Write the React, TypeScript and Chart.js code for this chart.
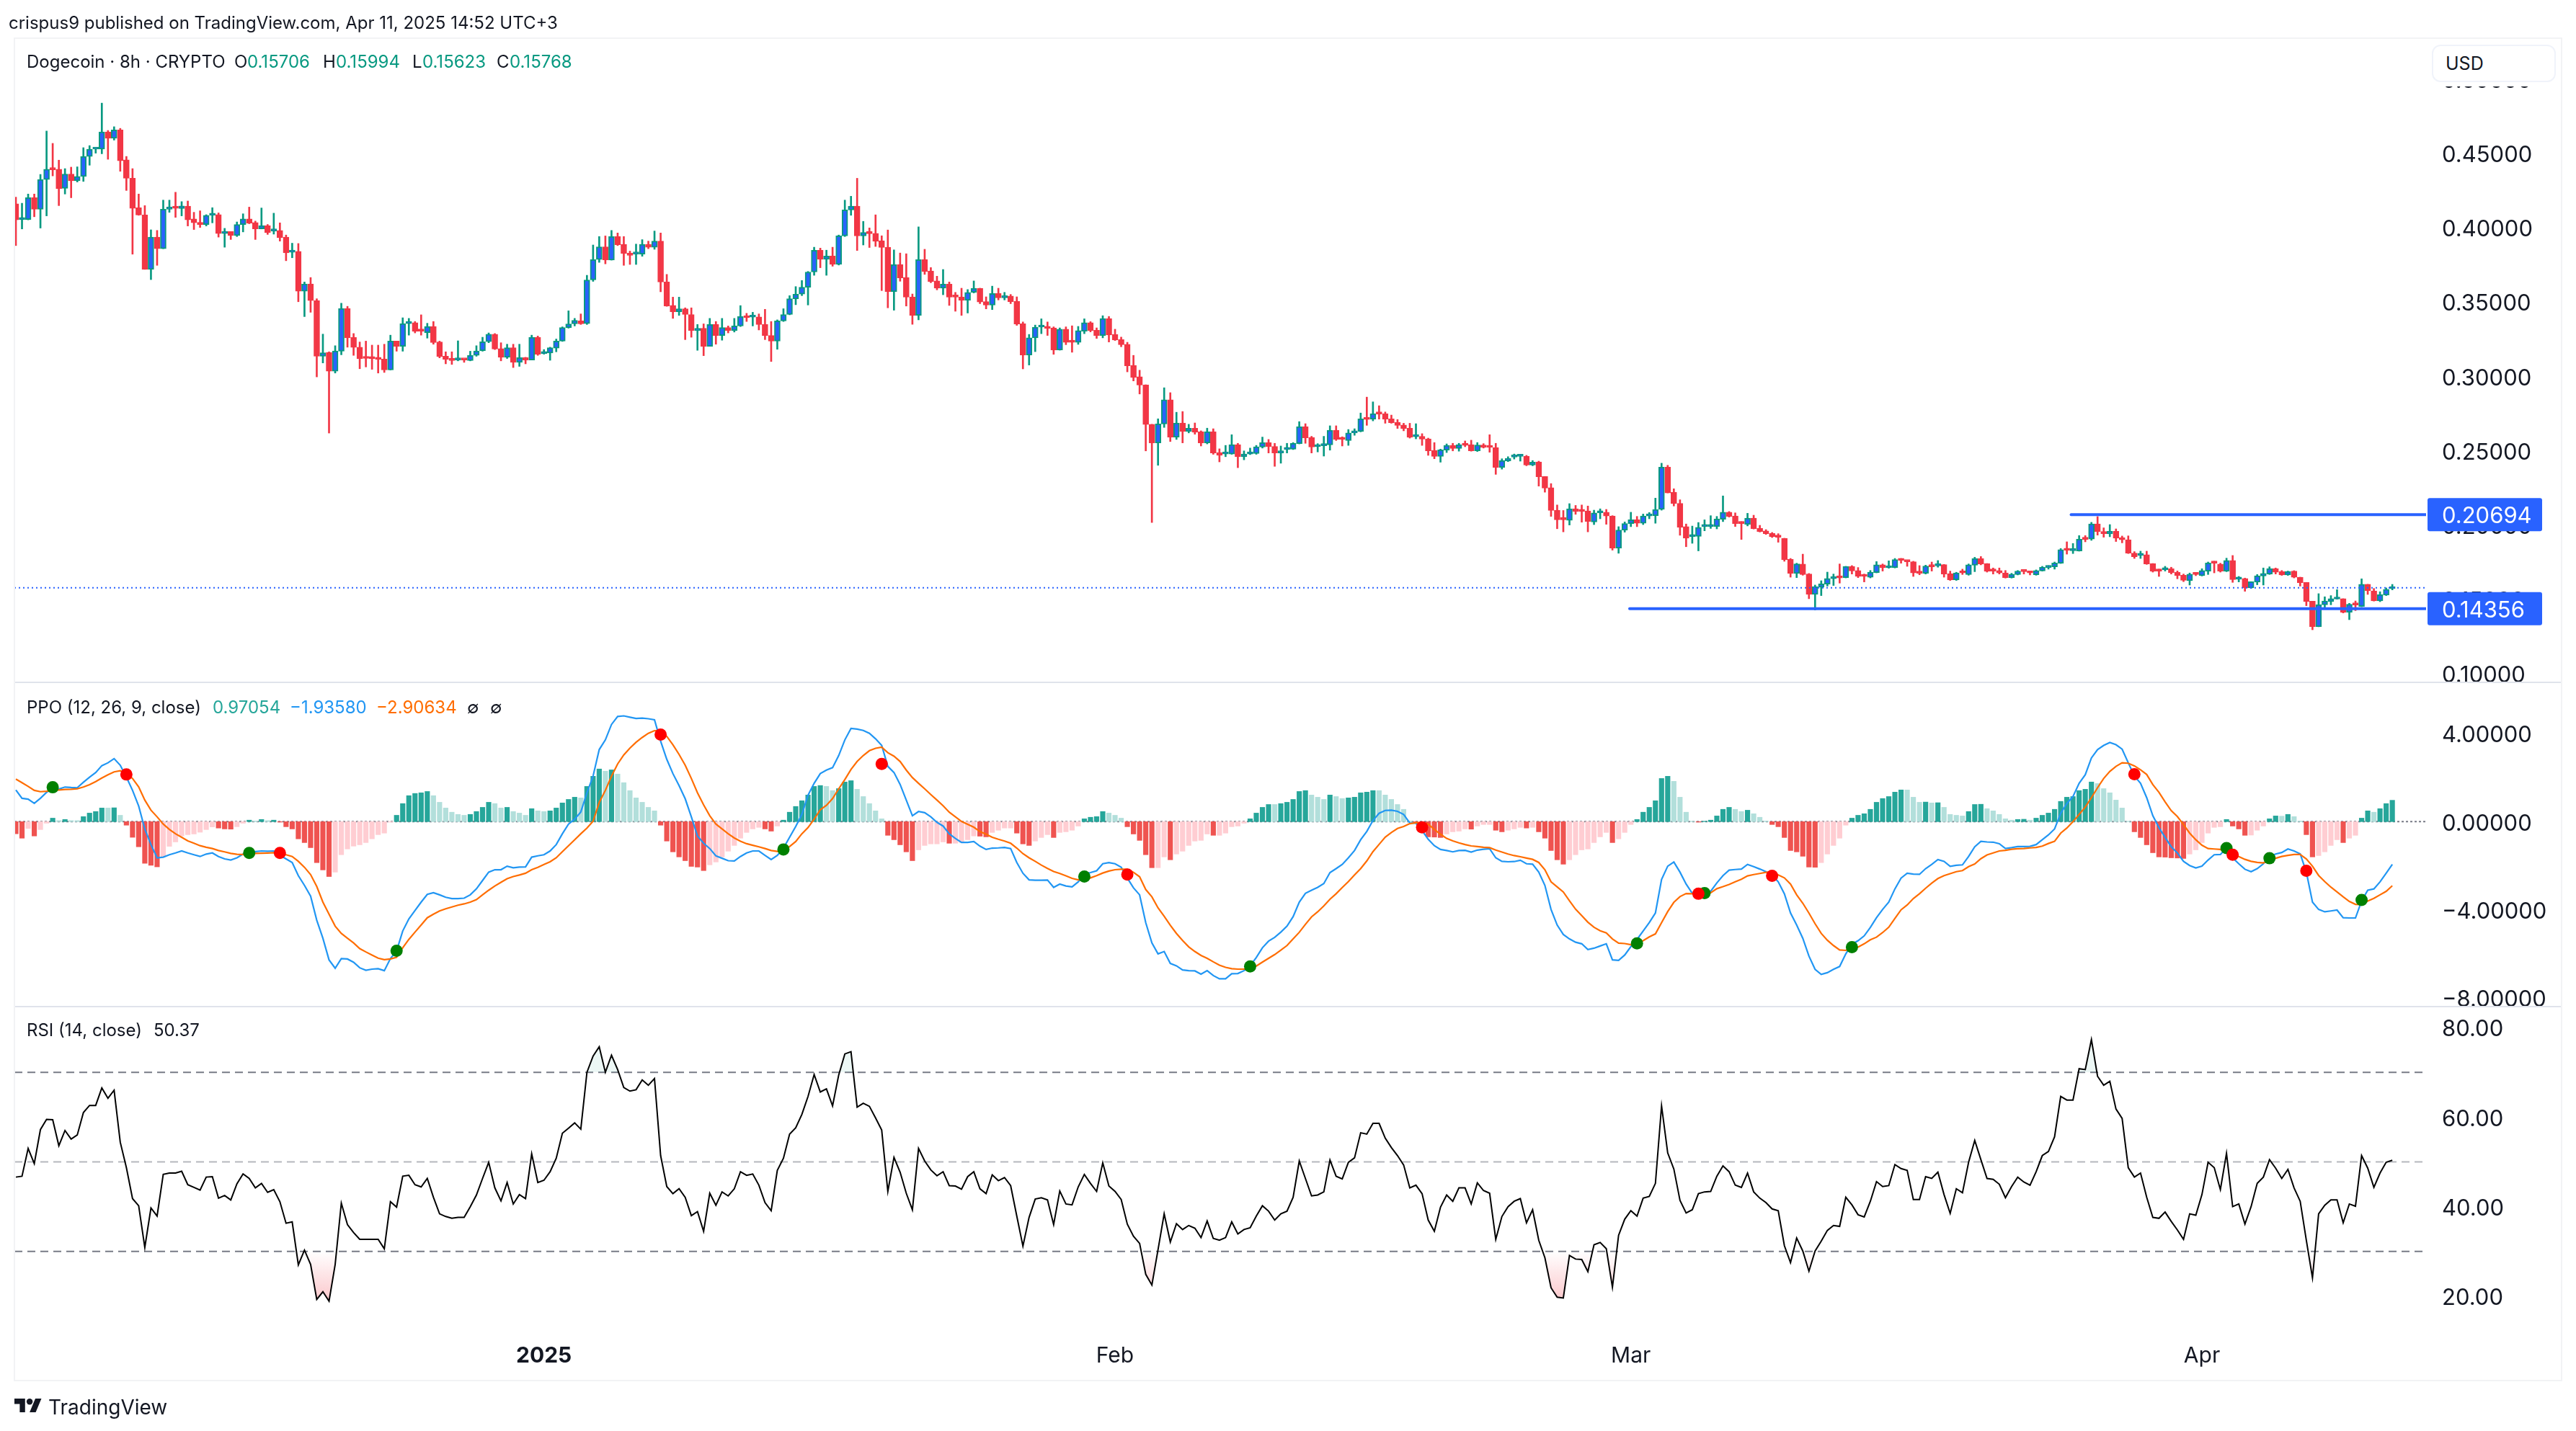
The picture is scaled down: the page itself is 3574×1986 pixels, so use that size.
import { useEffect, useRef } from 'react';
import { Chart, registerables } from 'chart.js';

Chart.register(...registerables);

const opens = [
  0.4161, 0.4055, 0.4055, 0.4202, 0.4125, 0.4325, 0.4398, 0.4394, 0.4265, 0.4361,
  0.4316, 0.4345, 0.4480, 0.4529, 0.4529, 0.4645, 0.4602, 0.4659, 0.4457, 0.4333,
  0.4135, 0.4086, 0.3720, 0.3937, 0.3859, 0.4125, 0.4139, 0.4129, 0.4145, 0.4059,
  0.4037, 0.4022, 0.4084, 0.4088, 0.3961, 0.3974, 0.3947, 0.4022, 0.4059, 0.4035,
  0.3992, 0.4014, 0.3978, 0.3982, 0.3937, 0.3835, 0.3841, 0.3573, 0.3622, 0.3510,
  0.3135, 0.3161, 0.3035, 0.3169, 0.3457, 0.3261, 0.3196, 0.3128, 0.3126, 0.3122,
  0.3116, 0.3043, 0.3237, 0.3202, 0.3355, 0.3361, 0.3312, 0.3294, 0.3335, 0.3231,
  0.3135, 0.3118, 0.3110, 0.3116, 0.3106, 0.3141, 0.3173, 0.3233, 0.3284, 0.3186,
  0.3128, 0.3192, 0.3094, 0.3126, 0.3110, 0.3263, 0.3153, 0.3157, 0.3190, 0.3237,
  0.3328, 0.3353, 0.3373, 0.3355, 0.3649, 0.3786, 0.3871, 0.3782, 0.3941, 0.3888,
  0.3829, 0.3823, 0.3823, 0.3888, 0.3869, 0.3910, 0.3635, 0.3477, 0.3435, 0.3455,
  0.3416, 0.3308, 0.3324, 0.3202, 0.3349, 0.3275, 0.3328, 0.3308, 0.3339, 0.3404,
  0.3398, 0.3400, 0.3349, 0.3275, 0.3237, 0.3373, 0.3416, 0.3522, 0.3553, 0.3600,
  0.3702, 0.3849, 0.3788, 0.3810, 0.3753, 0.3945, 0.4120, 0.4145, 0.3945, 0.3971,
  0.3962, 0.3913, 0.3869, 0.3570, 0.3753, 0.3665, 0.3535, 0.3410, 0.3786, 0.3709,
  0.3642, 0.3593, 0.3621, 0.3540, 0.3535, 0.3512, 0.3565, 0.3593, 0.3503, 0.3480,
  0.3558, 0.3528, 0.3540, 0.3505, 0.3354, 0.3143, 0.3259, 0.3331, 0.3333, 0.3326,
  0.3178, 0.3317, 0.3238, 0.3229, 0.3303, 0.3361, 0.3310, 0.3275, 0.3389, 0.3282,
  0.3247, 0.3215, 0.3074, 0.2997, 0.2943, 0.2677, 0.2552, 0.2679, 0.2842, 0.2591,
  0.2686, 0.2630, 0.2651, 0.2628, 0.2552, 0.2628, 0.2487, 0.2477, 0.2477, 0.2540,
  0.2459, 0.2477, 0.2480, 0.2524, 0.2554, 0.2528, 0.2484, 0.2507, 0.2510, 0.2547,
  0.2661, 0.2589, 0.2526, 0.2533, 0.2538, 0.2637, 0.2584, 0.2568, 0.2619, 0.2630,
  0.2719, 0.2712, 0.2753, 0.2749, 0.2714, 0.2691, 0.2672, 0.2651, 0.2593, 0.2596,
  0.2579, 0.2501, 0.2461, 0.2503, 0.2535, 0.2514, 0.2545, 0.2540, 0.2498, 0.2538,
  0.2531, 0.2521, 0.2387, 0.2431, 0.2456, 0.2461, 0.2463, 0.2403, 0.2424, 0.2326,
  0.2250, 0.2099, 0.2041, 0.2030, 0.2108, 0.2099, 0.2094, 0.2020, 0.2081, 0.2085,
  0.2060, 0.1844, 0.1965, 0.2009, 0.2034, 0.2011, 0.2060, 0.2062, 0.2104, 0.2389,
  0.2220, 0.2145, 0.1988, 0.1921, 0.1923, 0.1988, 0.1988, 0.1989, 0.2038, 0.2085,
  0.2060, 0.2015, 0.2002, 0.2046, 0.1976, 0.1959, 0.1942, 0.1923, 0.1910, 0.1769,
  0.1673, 0.1736, 0.1669, 0.1532, 0.1580, 0.1601, 0.1637, 0.1653, 0.1645, 0.1721,
  0.1692, 0.1661, 0.1647, 0.1679, 0.1731, 0.1711, 0.1713, 0.1769, 0.1761, 0.1752,
  0.1682, 0.1674, 0.1727, 0.1724, 0.1732, 0.1672, 0.1630, 0.1684, 0.1666, 0.1729,
  0.1774, 0.1740, 0.1695, 0.1692, 0.1677, 0.1645, 0.1666, 0.1692, 0.1684, 0.1664,
  0.1690, 0.1713, 0.1718, 0.1742, 0.1836, 0.1826, 0.1824, 0.1908, 0.1904, 0.2007,
  0.1955, 0.1939, 0.1957, 0.1915, 0.1900, 0.1810, 0.1794, 0.1799, 0.1740, 0.1695,
  0.1698, 0.1705, 0.1681, 0.1661, 0.1624, 0.1674, 0.1658, 0.1689, 0.1748, 0.1736,
  0.1689, 0.1760, 0.1634, 0.1639, 0.1576, 0.1614, 0.1656, 0.1669, 0.1706, 0.1685,
  0.1663, 0.1689, 0.1648, 0.1613, 0.1486, 0.1315, 0.1462, 0.1483, 0.1500, 0.1503,
  0.1411, 0.1469, 0.1451, 0.1600, 0.1556, 0.1488, 0.1527, 0.15706,
];

const highs = [
  0.4206, 0.4165, 0.4227, 0.4227, 0.4359, 0.4651, 0.4568, 0.4455, 0.4398, 0.4408,
  0.4410, 0.4539, 0.4553, 0.4535, 0.4839, 0.4655, 0.4680, 0.4669, 0.4480, 0.4398,
  0.4227, 0.4149, 0.3986, 0.3982, 0.4186, 0.4186, 0.4239, 0.4176, 0.4180, 0.4104,
  0.4114, 0.4088, 0.4135, 0.4100, 0.3996, 0.3974, 0.4039, 0.4094, 0.4139, 0.4045,
  0.4133, 0.4022, 0.4098, 0.4033, 0.3951, 0.3896, 0.3894, 0.3635, 0.3665, 0.3522,
  0.3284, 0.3165, 0.3206, 0.3492, 0.3471, 0.3288, 0.3231, 0.3237, 0.3210, 0.3210,
  0.3216, 0.3277, 0.3237, 0.3394, 0.3390, 0.3369, 0.3414, 0.3357, 0.3369, 0.3237,
  0.3165, 0.3165, 0.3239, 0.3116, 0.3169, 0.3206, 0.3263, 0.3292, 0.3288, 0.3226,
  0.3216, 0.3216, 0.3216, 0.3128, 0.3277, 0.3271, 0.3180, 0.3196, 0.3251, 0.3333,
  0.3441, 0.3390, 0.3420, 0.3680, 0.3884, 0.3941, 0.3945, 0.3982, 0.3965, 0.3941,
  0.3843, 0.3890, 0.3920, 0.3910, 0.3978, 0.3965, 0.3686, 0.3533, 0.3533, 0.3461,
  0.3461, 0.3349, 0.3353, 0.3390, 0.3369, 0.3390, 0.3339, 0.3390, 0.3476, 0.3424,
  0.3431, 0.3420, 0.3451, 0.3369, 0.3380, 0.3455, 0.3543, 0.3604, 0.3645, 0.3706,
  0.3869, 0.3863, 0.3849, 0.3869, 0.3951, 0.4186, 0.4212, 0.4333, 0.4043, 0.3999,
  0.4087, 0.3946, 0.3985, 0.3851, 0.3830, 0.3825, 0.3554, 0.4006, 0.3855, 0.3732,
  0.3674, 0.3719, 0.3635, 0.3565, 0.3593, 0.3584, 0.3642, 0.3593, 0.3535, 0.3607,
  0.3593, 0.3565, 0.3551, 0.3535, 0.3366, 0.3282, 0.3345, 0.3387, 0.3366, 0.3333,
  0.3326, 0.3333, 0.3340, 0.3336, 0.3387, 0.3368, 0.3326, 0.3408, 0.3403, 0.3317,
  0.3264, 0.3229, 0.3141, 0.3041, 0.2943, 0.2677, 0.2714, 0.2923, 0.2890, 0.2758,
  0.2763, 0.2677, 0.2686, 0.2633, 0.2651, 0.2647, 0.2512, 0.2535, 0.2607, 0.2549,
  0.2498, 0.2517, 0.2535, 0.2591, 0.2575, 0.2549, 0.2531, 0.2549, 0.2554, 0.2695,
  0.2681, 0.2596, 0.2547, 0.2596, 0.2667, 0.2667, 0.2593, 0.2642, 0.2647, 0.2753,
  0.2860, 0.2828, 0.2802, 0.2760, 0.2739, 0.2709, 0.2684, 0.2684, 0.2681, 0.2614,
  0.2584, 0.2554, 0.2510, 0.2545, 0.2549, 0.2549, 0.2565, 0.2570, 0.2554, 0.2547,
  0.2607, 0.2549, 0.2445, 0.2459, 0.2477, 0.2475, 0.2468, 0.2433, 0.2429, 0.2326,
  0.2278, 0.2134, 0.2097, 0.2143, 0.2131, 0.2134, 0.2127, 0.2099, 0.2108, 0.2104,
  0.2062, 0.1988, 0.2020, 0.2085, 0.2057, 0.2073, 0.2083, 0.2180, 0.2415, 0.2401,
  0.2243, 0.2169, 0.2006, 0.1992, 0.2016, 0.2034, 0.2062, 0.2057, 0.2195, 0.2090,
  0.2081, 0.2022, 0.2078, 0.2065, 0.1997, 0.1968, 0.1949, 0.1941, 0.1910, 0.1774,
  0.1742, 0.1803, 0.1673, 0.1595, 0.1624, 0.1682, 0.1669, 0.1737, 0.1721, 0.1726,
  0.1713, 0.1669, 0.1693, 0.1753, 0.1737, 0.1758, 0.1774, 0.1774, 0.1761, 0.1755,
  0.1726, 0.1729, 0.1750, 0.1760, 0.1734, 0.1689, 0.1681, 0.1702, 0.1737, 0.1782,
  0.1787, 0.1740, 0.1710, 0.1710, 0.1693, 0.1674, 0.1693, 0.1693, 0.1689, 0.1697,
  0.1721, 0.1726, 0.1750, 0.1841, 0.1886, 0.1875, 0.1928, 0.1928, 0.2017, 0.2056,
  0.1980, 0.2002, 0.1973, 0.1925, 0.1926, 0.1820, 0.1823, 0.1823, 0.1740, 0.1702,
  0.1721, 0.1715, 0.1690, 0.1669, 0.1676, 0.1677, 0.1705, 0.1750, 0.1755, 0.1742,
  0.1776, 0.1794, 0.1653, 0.1642, 0.1618, 0.1666, 0.1710, 0.1718, 0.1710, 0.1693,
  0.1689, 0.1692, 0.1648, 0.1613, 0.1486, 0.1537, 0.1516, 0.1524, 0.1564, 0.1503,
  0.1472, 0.1488, 0.1637, 0.1600, 0.1572, 0.1550, 0.1576, 0.15994,
];

const lows = [
  0.3880, 0.3992, 0.4053, 0.4074, 0.3998, 0.4080, 0.4349, 0.4149, 0.4227, 0.4202,
  0.4308, 0.4312, 0.4421, 0.4502, 0.4498, 0.4461, 0.4590, 0.4380, 0.4251, 0.3822,
  0.4084, 0.3720, 0.3651, 0.3747, 0.3859, 0.4104, 0.4070, 0.4080, 0.4012, 0.3988,
  0.4002, 0.4012, 0.4033, 0.3937, 0.3869, 0.3921, 0.3941, 0.3972, 0.4027, 0.3921,
  0.3992, 0.3955, 0.3957, 0.3910, 0.3778, 0.3798, 0.3502, 0.3402, 0.3431, 0.2996,
  0.3090, 0.2618, 0.3022, 0.3145, 0.3196, 0.3141, 0.3051, 0.3063, 0.3047, 0.3022,
  0.3026, 0.3043, 0.3169, 0.3169, 0.3277, 0.3292, 0.3277, 0.3257, 0.3216, 0.3124,
  0.3084, 0.3080, 0.3104, 0.3094, 0.3104, 0.3135, 0.3169, 0.3226, 0.3180, 0.3104,
  0.3120, 0.3059, 0.3067, 0.3084, 0.3110, 0.3141, 0.3149, 0.3108, 0.3165, 0.3235,
  0.3324, 0.3339, 0.3349, 0.3349, 0.3639, 0.3767, 0.3757, 0.3782, 0.3880, 0.3747,
  0.3753, 0.3753, 0.3808, 0.3859, 0.3855, 0.3569, 0.3471, 0.3390, 0.3410, 0.3247,
  0.3263, 0.3175, 0.3139, 0.3202, 0.3216, 0.3243, 0.3292, 0.3298, 0.3335, 0.3369,
  0.3339, 0.3312, 0.3247, 0.3100, 0.3182, 0.3369, 0.3414, 0.3482, 0.3543, 0.3480,
  0.3680, 0.3731, 0.3680, 0.3741, 0.3749, 0.3941, 0.4084, 0.3847, 0.3884, 0.3867,
  0.3874, 0.3577, 0.3461, 0.3445, 0.3640, 0.3473, 0.3350, 0.3380, 0.3686, 0.3630,
  0.3582, 0.3549, 0.3477, 0.3438, 0.3410, 0.3426, 0.3561, 0.3489, 0.3454, 0.3449,
  0.3514, 0.3514, 0.3489, 0.3343, 0.3050, 0.3076, 0.3166, 0.3287, 0.3275, 0.3148,
  0.3176, 0.3213, 0.3162, 0.3215, 0.3287, 0.3299, 0.3255, 0.3259, 0.3231, 0.3241,
  0.3199, 0.3030, 0.2969, 0.2881, 0.2498, 0.2016, 0.2401, 0.2656, 0.2561, 0.2575,
  0.2552, 0.2619, 0.2610, 0.2531, 0.2545, 0.2475, 0.2424, 0.2459, 0.2475, 0.2385,
  0.2438, 0.2473, 0.2475, 0.2517, 0.2484, 0.2394, 0.2415, 0.2484, 0.2507, 0.2545,
  0.2549, 0.2484, 0.2491, 0.2463, 0.2503, 0.2568, 0.2531, 0.2535, 0.2603, 0.2626,
  0.2670, 0.2700, 0.2712, 0.2684, 0.2684, 0.2649, 0.2633, 0.2584, 0.2579, 0.2535,
  0.2468, 0.2445, 0.2422, 0.2487, 0.2498, 0.2496, 0.2526, 0.2496, 0.2494, 0.2517,
  0.2489, 0.2340, 0.2375, 0.2426, 0.2443, 0.2429, 0.2398, 0.2398, 0.2261, 0.2220,
  0.2057, 0.1974, 0.1953, 0.1999, 0.2071, 0.2018, 0.1953, 0.2002, 0.2041, 0.2004,
  0.1830, 0.1809, 0.1951, 0.1988, 0.1988, 0.2002, 0.2041, 0.2011, 0.2099, 0.2215,
  0.2127, 0.1930, 0.1853, 0.1876, 0.1825, 0.1960, 0.1976, 0.1973, 0.2022, 0.2052,
  0.1989, 0.1902, 0.1993, 0.1972, 0.1952, 0.1936, 0.1915, 0.1883, 0.1755, 0.1648,
  0.1645, 0.1661, 0.1503, 0.1427, 0.1524, 0.1588, 0.1592, 0.1608, 0.1643, 0.1669,
  0.1645, 0.1616, 0.1643, 0.1677, 0.1689, 0.1708, 0.1710, 0.1742, 0.1721, 0.1653,
  0.1664, 0.1669, 0.1689, 0.1715, 0.1648, 0.1626, 0.1626, 0.1666, 0.1661, 0.1685,
  0.1731, 0.1682, 0.1669, 0.1669, 0.1642, 0.1642, 0.1663, 0.1669, 0.1663, 0.1661,
  0.1689, 0.1702, 0.1702, 0.1740, 0.1803, 0.1807, 0.1823, 0.1886, 0.1896, 0.1931,
  0.1917, 0.1920, 0.1888, 0.1879, 0.1807, 0.1774, 0.1774, 0.1734, 0.1682, 0.1653,
  0.1689, 0.1669, 0.1637, 0.1618, 0.1595, 0.1658, 0.1656, 0.1666, 0.1677, 0.1682,
  0.1685, 0.1613, 0.1616, 0.1553, 0.1572, 0.1597, 0.1595, 0.1666, 0.1669, 0.1660,
  0.1660, 0.1643, 0.1588, 0.1456, 0.1294, 0.1314, 0.1435, 0.1462, 0.1500, 0.1407,
  0.1362, 0.1423, 0.1449, 0.1532, 0.1487, 0.1483, 0.1524, 0.15623,
];

const closes = [
  0.4053, 0.4063, 0.4202, 0.4125, 0.4325, 0.4394, 0.4390, 0.4263, 0.4361, 0.4316,
  0.4345, 0.4480, 0.4529, 0.4535, 0.4645, 0.4602, 0.4659, 0.4451, 0.4333, 0.4131,
  0.4086, 0.3720, 0.3937, 0.3859, 0.4125, 0.4137, 0.4131, 0.4147, 0.4053, 0.4033,
  0.4022, 0.4084, 0.4092, 0.3961, 0.3976, 0.3947, 0.4022, 0.4059, 0.4031, 0.3992,
  0.4014, 0.3967, 0.3986, 0.3933, 0.3831, 0.3845, 0.3573, 0.3622, 0.3510, 0.3135,
  0.3159, 0.3035, 0.3171, 0.3457, 0.3259, 0.3194, 0.3118, 0.3120, 0.3118, 0.3114,
  0.3043, 0.3237, 0.3202, 0.3355, 0.3365, 0.3302, 0.3304, 0.3335, 0.3227, 0.3133,
  0.3114, 0.3106, 0.3118, 0.3110, 0.3141, 0.3171, 0.3233, 0.3284, 0.3184, 0.3128,
  0.3192, 0.3094, 0.3126, 0.3110, 0.3263, 0.3149, 0.3161, 0.3192, 0.3237, 0.3328,
  0.3353, 0.3377, 0.3353, 0.3649, 0.3786, 0.3871, 0.3784, 0.3941, 0.3886, 0.3827,
  0.3814, 0.3829, 0.3888, 0.3869, 0.3910, 0.3635, 0.3473, 0.3435, 0.3455, 0.3416,
  0.3308, 0.3324, 0.3202, 0.3349, 0.3275, 0.3328, 0.3308, 0.3339, 0.3402, 0.3394,
  0.3404, 0.3349, 0.3275, 0.3237, 0.3373, 0.3416, 0.3522, 0.3553, 0.3600, 0.3702,
  0.3849, 0.3788, 0.3810, 0.3753, 0.3945, 0.4120, 0.4145, 0.3945, 0.3969, 0.3960,
  0.3909, 0.3867, 0.3570, 0.3753, 0.3663, 0.3533, 0.3410, 0.3786, 0.3705, 0.3637,
  0.3593, 0.3621, 0.3533, 0.3533, 0.3512, 0.3565, 0.3593, 0.3500, 0.3480, 0.3558,
  0.3528, 0.3540, 0.3503, 0.3352, 0.3143, 0.3259, 0.3331, 0.3338, 0.3322, 0.3178,
  0.3317, 0.3229, 0.3229, 0.3308, 0.3361, 0.3308, 0.3275, 0.3389, 0.3278, 0.3245,
  0.3213, 0.3071, 0.2992, 0.2941, 0.2675, 0.2552, 0.2679, 0.2842, 0.2591, 0.2686,
  0.2630, 0.2651, 0.2623, 0.2552, 0.2628, 0.2484, 0.2468, 0.2487, 0.2540, 0.2459,
  0.2477, 0.2487, 0.2526, 0.2554, 0.2526, 0.2484, 0.2498, 0.2514, 0.2549, 0.2661,
  0.2586, 0.2524, 0.2535, 0.2542, 0.2637, 0.2575, 0.2575, 0.2619, 0.2633, 0.2714,
  0.2709, 0.2749, 0.2746, 0.2712, 0.2688, 0.2670, 0.2649, 0.2589, 0.2600, 0.2577,
  0.2498, 0.2461, 0.2505, 0.2535, 0.2514, 0.2540, 0.2535, 0.2498, 0.2538, 0.2521,
  0.2521, 0.2387, 0.2433, 0.2447, 0.2466, 0.2468, 0.2403, 0.2422, 0.2324, 0.2248,
  0.2097, 0.2034, 0.2034, 0.2108, 0.2090, 0.2090, 0.2023, 0.2081, 0.2087, 0.2060,
  0.1844, 0.1965, 0.2009, 0.2034, 0.2011, 0.2060, 0.2069, 0.2104, 0.2389, 0.2215,
  0.2143, 0.1983, 0.1911, 0.1930, 0.1983, 0.1997, 0.1997, 0.2039, 0.2085, 0.2057,
  0.2009, 0.2009, 0.2046, 0.1975, 0.1955, 0.1941, 0.1920, 0.1917, 0.1766, 0.1673,
  0.1737, 0.1666, 0.1532, 0.1585, 0.1603, 0.1639, 0.1648, 0.1643, 0.1721, 0.1690,
  0.1653, 0.1653, 0.1682, 0.1731, 0.1711, 0.1721, 0.1766, 0.1761, 0.1752, 0.1676,
  0.1674, 0.1723, 0.1718, 0.1732, 0.1669, 0.1630, 0.1677, 0.1676, 0.1731, 0.1774,
  0.1737, 0.1687, 0.1689, 0.1676, 0.1645, 0.1668, 0.1689, 0.1685, 0.1676, 0.1693,
  0.1716, 0.1724, 0.1744, 0.1833, 0.1829, 0.1833, 0.1904, 0.1902, 0.2007, 0.1954,
  0.1941, 0.1957, 0.1910, 0.1900, 0.1810, 0.1786, 0.1803, 0.1737, 0.1689, 0.1689,
  0.1706, 0.1679, 0.1660, 0.1627, 0.1668, 0.1666, 0.1693, 0.1744, 0.1742, 0.1689,
  0.1760, 0.1632, 0.1643, 0.1576, 0.1618, 0.1658, 0.1673, 0.1706, 0.1681, 0.1663,
  0.1687, 0.1647, 0.1611, 0.1483, 0.1315, 0.1464, 0.1488, 0.1503, 0.1508, 0.1411,
  0.1466, 0.1461, 0.1600, 0.1556, 0.1488, 0.1530, 0.1566, 0.15768,
];

const ppoHist = [
  -0.55, -0.75, -0.31, -0.65, -0.36, -0.07, 0.16, 0.05, 0.10, 0.05,
  0.05, 0.23, 0.39, 0.46, 0.62, 0.62, 0.63, 0.29, -0.16, -0.71,
  -1.14, -1.89, -1.98, -2.05, -1.58, -1.12, -0.92, -0.65, -0.59, -0.56,
  -0.48, -0.36, -0.24, -0.29, -0.33, -0.34, -0.23, -0.07, 0.07, 0.03,
  0.10, 0.05, 0.07, -0.02, -0.23, -0.33, -0.78, -0.95, -1.18, -1.86,
  -2.19, -2.49, -2.29, -1.50, -1.24, -1.11, -1.05, -0.95, -0.78, -0.59,
  -0.52, -0.02, 0.29, 0.82, 1.18, 1.28, 1.31, 1.37, 1.18, 0.88,
  0.62, 0.43, 0.33, 0.29, 0.33, 0.46, 0.65, 0.88, 0.82, 0.62,
  0.65, 0.46, 0.39, 0.29, 0.59, 0.49, 0.46, 0.49, 0.62, 0.85,
  1.01, 1.11, 1.08, 1.60, 2.06, 2.39, 2.29, 2.35, 2.16, 1.77,
  1.41, 1.08, 0.88, 0.65, 0.49, -0.16, -0.88, -1.37, -1.60, -1.77,
  -2.03, -2.06, -2.22, -1.96, -1.83, -1.60, -1.34, -1.08, -0.75, -0.49,
  -0.33, -0.26, -0.33, -0.43, -0.20, 0.07, 0.43, 0.69, 0.95, 1.21,
  1.60, 1.64, 1.60, 1.41, 1.50, 1.80, 1.86, 1.47, 1.14, 0.82,
  0.49, 0.13, -0.62, -0.82, -1.05, -1.37, -1.77, -1.28, -1.08, -1.01,
  -1.01, -0.92, -0.98, -0.98, -0.95, -0.82, -0.65, -0.66, -0.69, -0.49,
  -0.39, -0.29, -0.29, -0.52, -1.01, -1.08, -0.88, -0.72, -0.59, -0.72,
  -0.49, -0.46, -0.39, -0.20, 0.13, 0.20, 0.23, 0.46, 0.39, 0.29,
  0.16, -0.23, -0.56, -0.85, -1.50, -2.09, -2.09, -1.60, -1.73, -1.47,
  -1.34, -1.08, -0.88, -0.85, -0.56, -0.62, -0.62, -0.52, -0.23, -0.20,
  -0.07, 0.13, 0.39, 0.65, 0.78, 0.78, 0.82, 0.88, 1.01, 1.37,
  1.41, 1.21, 1.11, 1.01, 1.21, 1.14, 1.05, 1.08, 1.11, 1.31,
  1.34, 1.41, 1.41, 1.21, 1.01, 0.78, 0.56, 0.03, -0.04, -0.36,
  -0.69, -0.70, -0.72, -0.56, -0.46, -0.43, -0.33, -0.34, -0.20, -0.13,
  -0.13, -0.39, -0.46, -0.39, -0.33, -0.26, -0.29, -0.26, -0.46, -0.75,
  -1.31, -1.73, -1.93, -1.73, -1.50, -1.28, -1.24, -0.95, -0.69, -0.49,
  -0.95, -0.78, -0.49, -0.13, 0.10, 0.43, 0.65, 0.95, 1.96, 2.06,
  1.83, 1.11, 0.43, 0.02, -0.02, 0.02, 0.07, 0.26, 0.56, 0.65,
  0.56, 0.46, 0.52, 0.36, 0.20, 0.03, -0.13, -0.23, -0.72, -1.31,
  -1.37, -1.57, -2.06, -2.07, -1.86, -1.47, -1.08, -0.75, -0.16, 0.16,
  0.29, 0.36, 0.56, 0.88, 1.05, 1.14, 1.34, 1.44, 1.44, 1.11,
  0.88, 0.89, 0.85, 0.86, 0.65, 0.33, 0.29, 0.26, 0.46, 0.78,
  0.79, 0.59, 0.49, 0.33, 0.13, 0.07, 0.10, 0.11, 0.07, 0.16,
  0.29, 0.39, 0.56, 0.92, 1.11, 1.14, 1.41, 1.47, 1.80, 1.73,
  1.50, 1.31, 0.98, 0.62, 0.02, -0.46, -0.72, -1.05, -1.41, -1.60,
  -1.61, -1.64, -1.65, -1.67, -1.47, -1.28, -0.95, -0.52, -0.26, -0.23,
  0.10, -0.20, -0.33, -0.62, -0.61, -0.39, -0.20, 0.13, 0.26, 0.25,
  0.33, 0.23, 0.03, -0.59, -1.60, -1.54, -1.37, -1.08, -0.82, -0.95,
  -0.75, -0.62, 0.16, 0.49, 0.43, 0.59, 0.82, 0.97054,
];

const ppoLine = [
  1.44, 1.06, 1.02, 0.83, 1.06, 1.33, 1.50, 1.48, 1.57, 1.55,
  1.54, 1.79, 2.02, 2.23, 2.54, 2.67, 2.86, 2.56, 2.02, 1.42,
  0.71, -0.33, -1.04, -1.64, -1.61, -1.50, -1.42, -1.33, -1.42, -1.50,
  -1.58, -1.47, -1.42, -1.58, -1.69, -1.74, -1.64, -1.47, -1.40, -1.36,
  -1.33, -1.34, -1.33, -1.53, -1.69, -1.85, -2.45, -2.89, -3.38, -4.47,
  -5.29, -6.27, -6.65, -6.21, -6.23, -6.38, -6.63, -6.74, -6.69, -6.67,
  -6.76, -6.21, -5.86, -4.96, -4.41, -4.03, -3.65, -3.30, -3.22, -3.32,
  -3.43, -3.49, -3.49, -3.47, -3.32, -3.05, -2.67, -2.29, -2.18, -2.18,
  -2.02, -2.09, -2.06, -2.05, -1.61, -1.55, -1.50, -1.33, -1.04, -0.55,
  -0.11, 0.11, 0.44, 1.31, 2.07, 3.27, 3.71, 4.41, 4.77, 4.80,
  4.74, 4.68, 4.70, 4.67, 4.62, 3.65, 2.83, 2.18, 1.64, 1.04,
  0.22, -0.65, -0.98, -1.22, -1.55, -1.66, -1.77, -1.78, -1.58, -1.42,
  -1.33, -1.33, -1.53, -1.72, -1.53, -1.20, -0.71, -0.22, 0.33, 1.20,
  1.74, 2.18, 2.34, 2.45, 3.00, 3.71, 4.23, 4.20, 4.14, 4.01,
  3.76, 3.46, 2.51, 2.23, 1.69, 0.98, 0.27, 0.46, 0.41, 0.22,
  -0.03, -0.20, -0.55, -0.76, -0.94, -0.94, -0.90, -1.11, -1.26, -1.20,
  -1.19, -1.17, -1.22, -1.85, -2.34, -2.64, -2.66, -2.66, -2.65, -2.98,
  -2.83, -2.92, -2.96, -2.73, -2.38, -2.31, -2.23, -1.91, -1.86, -1.91,
  -2.07, -2.56, -3.00, -3.32, -4.58, -5.50, -6.00, -5.89, -6.43, -6.54,
  -6.73, -6.76, -6.77, -6.92, -6.76, -6.98, -7.13, -7.13, -6.90, -6.89,
  -6.76, -6.54, -6.16, -5.72, -5.42, -5.25, -5.01, -4.74, -4.31, -3.65,
  -3.25, -3.11, -2.98, -2.81, -2.31, -2.13, -1.94, -1.64, -1.31, -0.82,
  -0.44, 0.05, 0.38, 0.51, 0.52, 0.47, 0.33, -0.06, -0.07, -0.40,
  -0.80, -1.09, -1.26, -1.31, -1.37, -1.31, -1.30, -1.38, -1.29, -1.25,
  -1.23, -1.64, -1.80, -1.82, -1.81, -1.75, -1.91, -1.93, -2.29, -2.89,
  -3.98, -4.69, -5.12, -5.32, -5.47, -5.54, -5.80, -5.74, -5.64, -5.54,
  -6.27, -6.29, -6.05, -5.67, -5.34, -4.96, -4.58, -4.14, -2.62, -2.02,
  -1.83, -2.29, -2.83, -3.25, -3.32, -3.36, -3.16, -2.78, -2.45, -2.20,
  -2.17, -2.15, -1.94, -2.04, -2.15, -2.27, -2.42, -2.73, -3.27, -4.14,
  -4.69, -5.29, -6.10, -6.70, -6.93, -6.85, -6.70, -6.57, -6.00, -5.56,
  -5.40, -5.18, -4.80, -4.36, -3.98, -3.65, -3.05, -2.56, -2.34, -2.38,
  -2.39, -2.13, -1.94, -1.72, -1.80, -2.03, -1.98, -1.96, -1.58, -1.14,
  -0.89, -0.92, -0.93, -1.00, -1.22, -1.18, -1.13, -1.13, -1.12, -1.04,
  -0.82, -0.60, -0.33, 0.38, 0.82, 1.14, 1.74, 2.13, 2.89, 3.27,
  3.46, 3.59, 3.49, 3.29, 2.67, 2.07, 1.74, 1.09, 0.27, -0.27,
  -0.71, -1.14, -1.42, -1.80, -1.99, -2.10, -2.02, -1.74, -1.50, -1.49,
  -1.20, -1.64, -1.91, -2.16, -2.27, -2.13, -1.91, -1.58, -1.47, -1.40,
  -1.24, -1.33, -1.46, -2.29, -3.65, -3.98, -4.09, -4.05, -4.01, -4.36,
  -4.37, -4.37, -3.60, -3.11, -3.05, -2.73, -2.34, -1.9358,
];

const ppoSignal = [
  1.93, 1.77, 1.60, 1.42, 1.36, 1.38, 1.42, 1.44, 1.46, 1.47,
  1.49, 1.57, 1.68, 1.82, 1.98, 2.13, 2.26, 2.31, 2.20, 1.96,
  1.58, 0.98, 0.52, 0.22, -0.11, -0.35, -0.55, -0.71, -0.87, -0.98,
  -1.09, -1.16, -1.22, -1.31, -1.37, -1.44, -1.48, -1.49, -1.46, -1.44,
  -1.43, -1.42, -1.41, -1.45, -1.50, -1.58, -1.80, -2.07, -2.40, -2.94,
  -3.65, -4.20, -4.74, -5.07, -5.29, -5.50, -5.76, -5.91, -6.05, -6.19,
  -6.26, -6.23, -6.15, -5.72, -5.34, -5.01, -4.69, -4.36, -4.20, -4.05,
  -3.95, -3.87, -3.79, -3.73, -3.65, -3.54, -3.32, -3.11, -2.92, -2.75,
  -2.59, -2.49, -2.42, -2.34, -2.18, -2.07, -1.94, -1.82, -1.64, -1.36,
  -1.09, -0.82, -0.55, -0.29, 0.02, 0.87, 1.42, 2.06, 2.62, 3.03,
  3.34, 3.60, 3.82, 4.01, 4.13, 4.12, 3.87, 3.49, 3.05, 2.56,
  1.96, 1.31, 0.76, 0.27, -0.11, -0.33, -0.55, -0.74, -0.89, -1.00,
  -1.07, -1.14, -1.22, -1.31, -1.35, -1.35, -1.13, -0.90, -0.55, -0.27,
  0.11, 0.54, 0.74, 1.05, 1.49, 1.91, 2.37, 2.73, 3.00, 3.22,
  3.33, 3.38, 3.13, 2.97, 2.73, 2.34, 2.00, 1.74, 1.49, 1.23,
  0.98, 0.72, 0.43, 0.22, 0.01, -0.12, -0.25, -0.45, -0.57, -0.71,
  -0.80, -0.88, -0.98, -1.20, -1.45, -1.64, -1.80, -1.97, -2.12, -2.26,
  -2.35, -2.46, -2.57, -2.64, -2.60, -2.55, -2.45, -2.33, -2.24, -2.18,
  -2.16, -2.16, -2.30, -2.50, -3.08, -3.41, -3.91, -4.29, -4.70, -5.07,
  -5.39, -5.68, -5.89, -6.07, -6.20, -6.36, -6.51, -6.61, -6.67, -6.69,
  -6.69, -6.67, -6.55, -6.37, -6.20, -6.03, -5.83, -5.62, -5.32, -5.02,
  -4.66, -4.32, -4.09, -3.82, -3.52, -3.27, -2.99, -2.72, -2.42, -2.13,
  -1.78, -1.36, -1.03, -0.70, -0.49, -0.31, -0.22, -0.09, -0.05, -0.04,
  -0.11, -0.35, -0.57, -0.76, -0.87, -0.96, -1.04, -1.10, -1.13, -1.16,
  -1.18, -1.29, -1.38, -1.47, -1.54, -1.59, -1.65, -1.71, -1.85, -2.18,
  -2.73, -2.96, -3.19, -3.59, -3.97, -4.26, -4.56, -4.79, -4.95, -5.05,
  -5.32, -5.51, -5.53, -5.58, -5.50, -5.40, -5.23, -5.09, -4.58, -4.08,
  -3.66, -3.40, -3.26, -3.27, -3.30, -3.35, -3.23, -3.04, -2.95, -2.85,
  -2.73, -2.61, -2.46, -2.40, -2.35, -2.30, -2.29, -2.42, -2.55, -2.83,
  -3.32, -3.70, -4.15, -4.63, -5.07, -5.38, -5.62, -5.82, -5.84, -5.72,
  -5.69, -5.54, -5.36, -5.24, -5.03, -4.79, -4.39, -4.00, -3.78, -3.49,
  -3.27, -3.02, -2.79, -2.58, -2.45, -2.36, -2.27, -2.22, -2.04, -1.92,
  -1.68, -1.51, -1.42, -1.33, -1.30, -1.25, -1.23, -1.22, -1.19, -1.17,
  -1.11, -0.99, -0.89, -0.52, -0.29, 0, 0.33, 0.66, 1.09, 1.54,
  1.96, 2.28, 2.51, 2.67, 2.65, 2.53, 2.35, 2.14, 1.68, 1.33,
  0.90, 0.50, 0.23, -0.13, -0.52, -0.82, -1.07, -1.22, -1.24, -1.26,
  -1.36, -1.44, -1.58, -1.71, -1.80, -1.85, -1.87, -1.74, -1.66, -1.58,
  -1.53, -1.49, -1.49, -1.69, -2.02, -2.44, -2.72, -2.97, -3.19, -3.41,
  -3.62, -3.75, -3.76, -3.60, -3.48, -3.32, -3.16, -2.90634,
];

const rsiLine = [
  46.6, 46.8, 53.0, 49.6, 57.2, 59.5, 59.4, 53.6, 57.0, 55.1,
  56.0, 61.0, 62.6, 62.6, 66.5, 64.2, 66.0, 54.4, 48.7, 41.8,
  40.2, 30.9, 39.7, 37.9, 47.2, 47.5, 47.5, 47.9, 44.9, 44.3,
  43.7, 46.6, 46.7, 41.9, 42.5, 41.5, 45.1, 47.3, 46.3, 44.2,
  45.2, 43.2, 43.8, 41.1, 36.3, 36.6, 27.0, 30.3, 27.1, 19.3,
  21.0, 18.9, 27.1, 40.8, 36.0, 34.2, 32.7, 32.7, 32.7, 32.7,
  30.6, 41.1, 39.9, 46.8, 47.0, 44.9, 44.4, 46.3, 42.1, 38.4,
  37.8, 37.4, 37.6, 37.6, 40.0, 42.6, 46.3, 49.9, 44.2, 41.3,
  45.4, 40.6, 42.7, 41.8, 51.8, 45.4, 45.9, 47.8, 50.8, 56.4,
  57.5, 58.7, 57.3, 70.0, 73.6, 75.7, 70.0, 73.8, 70.6, 66.6,
  65.8, 66.1, 68.3, 67.1, 68.6, 51.4, 44.5, 42.9, 44.0, 42.1,
  38.0, 38.9, 34.5, 43.0, 40.3, 43.3, 42.4, 44.0, 47.8, 47.0,
  47.3, 44.8, 40.9, 39.1, 48.1, 50.8, 56.2, 57.6, 60.6, 64.6,
  69.5, 65.6, 66.3, 62.5, 69.4, 74.1, 74.6, 62.2, 63.1, 62.4,
  59.8, 57.1, 43.4, 51.0, 47.7, 43.0, 39.3, 53.0, 50.2, 48.2,
  46.9, 47.8, 44.7, 44.6, 43.9, 46.7, 47.8, 44.0, 42.9, 47.1,
  45.8, 46.5, 44.7, 37.9, 31.2, 37.6, 41.7, 42.0, 41.5, 36.0,
  43.5, 40.6, 40.4, 44.4, 47.2, 45.2, 43.4, 49.8, 44.6, 43.4,
  41.6, 36.1, 33.4, 31.8, 24.9, 22.5, 30.4, 38.4, 32.1, 36.2,
  34.9, 35.8, 35.2, 33.1, 36.8, 32.9, 32.5, 33.1, 36.6, 33.9,
  34.9, 35.3, 37.9, 40.2, 39.0, 37.0, 38.4, 39.0, 42.1, 50.2,
  46.3, 42.4, 42.6, 43.3, 50.4, 46.8, 46.2, 49.9, 50.9, 56.5,
  56.2, 58.6, 58.6, 55.3, 53.2, 51.4, 49.3, 44.2, 44.8, 42.9,
  37.0, 34.5, 39.9, 42.6, 41.2, 44.2, 44.2, 40.6, 45.3, 43.6,
  43.0, 32.7, 37.8, 40.0, 41.2, 41.8, 36.4, 39.3, 32.5, 28.6,
  21.9, 19.8, 19.6, 29.1, 28.3, 28.2, 25.5, 31.5, 32.0, 30.6,
  22.0, 33.6, 37.2, 39.1, 37.9, 41.9, 42.3, 45.2, 62.5, 52.0,
  48.4, 41.4, 38.6, 39.3, 42.9, 43.3, 43.4, 46.8, 49.1, 47.8,
  44.8, 44.3, 47.5, 43.3, 41.9, 40.9, 39.5, 39.1, 31.3, 27.5,
  33.0, 30.1, 25.6, 30.1, 32.3, 34.7, 35.8, 35.6, 42.1, 40.4,
  38.2, 37.7, 41.2, 45.6, 44.5, 44.7, 49.4, 48.5, 48.1, 41.6,
  41.6, 46.7, 46.3, 47.7, 42.7, 38.5, 44.0, 43.1, 49.9, 54.8,
  50.5, 46.3, 46.1, 45.0, 42.0, 44.5, 46.6, 45.5, 44.8, 47.8,
  51.4, 52.3, 55.6, 64.6, 63.8, 63.8, 70.8, 70.6, 77.3, 69.1,
  67.1, 68.0, 61.8, 59.7, 48.7, 46.6, 47.5, 42.1, 37.6, 37.4,
  38.8, 36.7, 34.8, 32.7, 38.4, 38.1, 42.7, 49.9, 48.7, 43.8,
  51.9, 40.0, 40.6, 36.1, 40.0, 45.2, 46.6, 50.5, 48.6, 46.3,
  48.3, 44.2, 41.2, 32.5, 24.1, 38.4, 40.3, 41.5, 41.5, 36.4,
  40.6, 40.1, 51.4, 48.6, 44.3, 47.5, 49.9, 50.37,
];

// PPO cross dots: candle index and the PPO value they sit on
const bullCrossIdx = [6, 38, 62, 125, 174, 201, 264, 275, 299, 360, 367, 382];
const bullCrossVal = [1.56, -1.42, -5.86, -1.26, -2.49, -6.57, -5.52, -3.24, -5.69, -1.2, -1.66, -3.55];
const bearCrossIdx = [18, 43, 105, 141, 181, 229, 274, 286, 345, 361, 373];
const bearCrossVal = [2.14, -1.42, 3.95, 2.62, -2.4, -0.26, -3.27, -2.46, 2.15, -1.5, -2.23];

// drawn levels: value, first candle index
const levelValues = [0.20694, 0.14356];
const levelStarts = [334.7, 262.8];
const lastClose = 0.15768;

const priceTicks = [0.5, 0.45, 0.4, 0.35, 0.3, 0.25, 0.2, 0.15, 0.1];
const ppoTicks = [4, 0, -4, -8];
const rsiTicks = [80, 60, 40, 20];
const rsiBands = [70, 50, 30];
const timeTickIdx = [86, 179, 263, 356];
const timeTickLabels = ['2025', 'Feb', 'Mar', 'Apr'];

const xMin = -0.235;
const xMax = 392.5;
const UP_BODY = '#2962ff';
const UP_EDGE = '#089981';
const DOWN = '#f23645';
const INK = '#131722';
const FONT = 'Inter, "Noto Sans", sans-serif';

const indices = closes.map((_, i) => i);
const histColors = ppoHist.map((v, i) => {
  const prev = i ? ppoHist[i - 1] : 0;
  if (v >= 0) return v > prev ? '#26a69a' : '#b2dfdb';
  return v < prev ? '#ef5350' : '#ffcdd2';
});
const minus = (s: string) => s.replace('-', '\u2212');

const paneLines = {
  id: 'paneLines',
  afterDraw(chart: any) {
    const { ctx, scales } = chart;
    ctx.save();
    ctx.strokeStyle = '#e0e3eb';
    ctx.lineWidth = 2;
    [scales.yPrice.bottom, scales.yPpo.bottom].forEach((y: number) => {
      ctx.beginPath();
      ctx.moveTo(20, y);
      ctx.lineTo(3554, y);
      ctx.stroke();
    });
    ctx.strokeStyle = '#f2f3f5';
    ctx.strokeRect(20, 53, 3534, 1863);

    // price tags of the drawn levels
    levelValues.forEach((v) => {
      const y = scales.yPrice.getPixelForValue(v);
      ctx.fillStyle = UP_BODY;
      ctx.beginPath();
      ctx.roundRect(3368, y - 23, 159, 46, 3);
      ctx.fill();
      ctx.fillStyle = '#ffffff';
      ctx.font = `31px ${FONT}`;
      ctx.textBaseline = 'middle';
      ctx.fillText(v.toFixed(5), 3388, y + 3);
    });
    ctx.restore();
  },
};

function Label({ x, y, size = 24, color = INK, children }: any) {
  return (
    <span
      style={{
        position: 'absolute',
        left: x,
        top: y - 20,
        height: 40,
        lineHeight: '40px',
        fontFamily: FONT,
        fontSize: size,
        color,
        whiteSpace: 'nowrap',
      }}
    >
      {children}
    </span>
  );
}

export default function App() {
  const canvasRef = useRef<HTMLCanvasElement>(null);

  useEffect(() => {
    document.body.style.margin = '0';
    const canvas = canvasRef.current;
    if (!canvas) return;
    const ctx = canvas.getContext('2d');
    if (!ctx) return;

    const flat = (value: number) => [{ x: xMin, y: value }, { x: xMax, y: value }];
    const crisp = { pointRadius: 0, pointHoverRadius: 0, tension: 0 };

    const chart = new Chart(ctx, {
      type: 'bar',
      data: {
        datasets: [
          // price pane
          {
            data: indices.map((i) => ({ x: i, y: [lows[i], highs[i]] })),
            yAxisID: 'yPrice',
            barThickness: 2,
            grouped: false,
            backgroundColor: indices.map((i) => (closes[i] >= opens[i] ? UP_EDGE : DOWN)),
            order: 12,
          },
          {
            data: indices.map((i) => ({ x: i, y: [opens[i], closes[i]] })),
            yAxisID: 'yPrice',
            barThickness: 8,
            grouped: false,
            minBarLength: 3,
            borderWidth: 2,
            borderSkipped: false,
            backgroundColor: indices.map((i) => (closes[i] >= opens[i] ? UP_BODY : DOWN)),
            borderColor: indices.map((i) => (closes[i] >= opens[i] ? UP_EDGE : DOWN)),
            order: 11,
          },
          {
            type: 'line',
            data: flat(lastClose),
            yAxisID: 'yPrice',
            borderColor: UP_BODY,
            borderWidth: 2,
            borderDash: [2, 4],
            order: 10,
            ...crisp,
          },
          ...levelValues.map((v, k) => ({
            type: 'line',
            data: [{ x: levelStarts[k], y: v }, { x: xMax, y: v }],
            yAxisID: 'yPrice',
            borderColor: UP_BODY,
            borderWidth: 4,
            borderCapStyle: 'round',
            order: 9,
            ...crisp,
          })),
          // ppo pane
          {
            type: 'line',
            data: flat(0),
            yAxisID: 'yPpo',
            borderColor: '#787b86',
            borderWidth: 2,
            borderDash: [3, 3],
            order: 8,
            ...crisp,
          },
          {
            data: indices.map((i) => ({ x: i, y: ppoHist[i] })),
            yAxisID: 'yPpo',
            barThickness: 6.5,
            grouped: false,
            backgroundColor: histColors,
            order: 7,
          },
          {
            type: 'line',
            data: indices.map((i) => ({ x: i, y: ppoLine[i] })),
            yAxisID: 'yPpo',
            borderColor: '#2196f3',
            borderWidth: 2.2,
            order: 6,
            ...crisp,
          },
          {
            type: 'line',
            data: indices.map((i) => ({ x: i, y: ppoSignal[i] })),
            yAxisID: 'yPpo',
            borderColor: '#ff6d00',
            borderWidth: 2.2,
            order: 5,
            ...crisp,
          },
          {
            type: 'line',
            data: bullCrossIdx.map((idx, k) => ({ x: idx, y: bullCrossVal[k] })),
            yAxisID: 'yPpo',
            showLine: false,
            pointRadius: 8.5,
            pointBackgroundColor: '#008000',
            pointBorderWidth: 0,
            order: 3,
          },
          {
            type: 'line',
            data: bearCrossIdx.map((idx, k) => ({ x: idx, y: bearCrossVal[k] })),
            yAxisID: 'yPpo',
            showLine: false,
            pointRadius: 8.5,
            pointBackgroundColor: '#ff0000',
            pointBorderWidth: 0,
            order: 2,
          },
          // rsi pane
          ...rsiBands.map((v) => ({
            type: 'line',
            data: flat(v),
            yAxisID: 'yRsi',
            borderColor: v === 50 ? 'rgba(120,123,134,0.55)' : '#787b86',
            borderWidth: 2,
            borderDash: [11, 7],
            order: 4,
            ...crisp,
          })),
          {
            type: 'line',
            data: indices.map((i) => ({ x: i, y: rsiLine[i] })),
            yAxisID: 'yRsi',
            borderWidth: 0,
            fill: { target: { value: 70 }, above: 'rgba(8,153,129,0.08)', below: 'rgba(0,0,0,0)' },
            order: 2,
            ...crisp,
          },
          {
            type: 'line',
            data: indices.map((i) => ({ x: i, y: rsiLine[i] })),
            yAxisID: 'yRsi',
            borderColor: '#000000',
            borderWidth: 2,
            fill: { target: { value: 30 }, above: 'rgba(0,0,0,0)', below: 'rgba(242,54,69,0.15)' },
            order: 1,
            ...crisp,
          },
        ] as any,
      },
      options: {
        animation: false,
        responsive: false,
        devicePixelRatio: 1,
        layout: { padding: { left: 20, right: 20, top: 53, bottom: 70 } },
        plugins: { legend: { display: false }, tooltip: { enabled: false }, title: { display: false } },
        scales: {
          x: {
            type: 'linear',
            offset: false,
            min: xMin,
            max: xMax,
            grid: { display: false, drawTicks: false },
            border: { display: false },
            afterFit: (s: any) => { s.height = 71; },
            afterBuildTicks: (s: any) => { s.ticks = timeTickIdx.map((value) => ({ value })); },
            ticks: {
              autoSkip: false,
              maxRotation: 0,
              padding: 19,
              color: INK,
              font: (c: any) => ({ family: FONT, size: 30, weight: c.index === 0 ? 'bold' : 'normal' }),
              callback: (_v: any, i: number) => timeTickLabels[i],
            },
          },
          yPrice: {
            position: 'right',
            stack: 'panes',
            stackWeight: 894,
            min: 0.094,
            max: 0.5276,
            grid: { display: false, drawTicks: false },
            border: { display: false },
            afterFit: (s: any) => { s.width = 188; },
            afterBuildTicks: (s: any) => { s.ticks = priceTicks.map((value) => ({ value })); },
            ticks: {
              autoSkip: false,
              padding: 22,
              labelOffset: 3,
              color: INK,
              font: { family: FONT, size: 31 },
              callback: (v: any) => Number(v).toFixed(5),
            },
          },
          yPpo: {
            position: 'right',
            stack: 'panes',
            stackWeight: 450,
            min: -8.39,
            max: 6.32,
            grid: { display: false, drawTicks: false },
            border: { display: false },
            afterFit: (s: any) => { s.width = 188; },
            afterBuildTicks: (s: any) => { s.ticks = ppoTicks.map((value) => ({ value })); },
            ticks: {
              autoSkip: false,
              padding: 22,
              labelOffset: 3,
              color: INK,
              font: { family: FONT, size: 31 },
              callback: (v: any) => minus(Number(v).toFixed(5)),
            },
          },
          yRsi: {
            position: 'right',
            stack: 'panes',
            stackWeight: 448,
            min: 12.6,
            max: 84.66,
            grid: { display: false, drawTicks: false },
            border: { display: false },
            afterFit: (s: any) => { s.width = 188; },
            afterBuildTicks: (s: any) => { s.ticks = rsiTicks.map((value) => ({ value })); },
            ticks: {
              autoSkip: false,
              padding: 22,
              labelOffset: 3,
              color: INK,
              font: { family: FONT, size: 31 },
              callback: (v: any) => Number(v).toFixed(2),
            },
          },
        },
      } as any,
      plugins: [paneLines],
    });

    // oversold fill fades out towards the 30 band, needs the finished scale
    const rsiScale = chart.scales.yRsi;
    const fade = ctx.createLinearGradient(0, rsiScale.getPixelForValue(30), 0, rsiScale.getPixelForValue(18));
    fade.addColorStop(0, 'rgba(242,54,69,0)');
    fade.addColorStop(1, 'rgba(242,54,69,0.3)');
    const rsiDataset: any = chart.data.datasets[chart.data.datasets.length - 1];
    rsiDataset.fill.below = fade;
    chart.update();

    return () => chart.destroy();
  }, []);

  return (
    <div style={{ position: 'absolute', left: 0, top: 0, width: 3574, height: 1986, background: '#ffffff', overflow: 'hidden' }}>
      <canvas ref={canvasRef} width={3574} height={1986} style={{ position: 'absolute', left: 0, top: 0 }} />

      <Label x={12} y={32}>crispus9 published on TradingView.com, Apr 11, 2025 14:52 UTC+3</Label>

      <Label x={37} y={86}>Dogecoin · 8h · CRYPTO</Label>
      <Label x={325} y={86}>O</Label>
      <Label x={343} y={86} color={UP_EDGE}>0.15706</Label>
      <Label x={448} y={86}>H</Label>
      <Label x={466} y={86} color={UP_EDGE}>0.15994</Label>
      <Label x={572} y={86}>L</Label>
      <Label x={586} y={86} color={UP_EDGE}>0.15623</Label>
      <Label x={689} y={86}>C</Label>
      <Label x={707} y={86} color={UP_EDGE}>0.15768</Label>

      <Label x={37} y={982}>PPO (12, 26, 9, close)</Label>
      <Label x={295} y={982} color="#26a69a">0.97054</Label>
      <Label x={402} y={982} color="#2196f3">{'\u22121.93580'}</Label>
      <Label x={522} y={982} color="#ff6d00">{'\u22122.90634'}</Label>
      <Label x={648} y={982}>{'\u2205'}</Label>
      <Label x={680} y={982}>{'\u2205'}</Label>

      <Label x={37} y={1430}>RSI (14, close)</Label>
      <Label x={213} y={1430}>50.37</Label>

      <div
        style={{
          position: 'absolute',
          left: 3374,
          top: 62,
          width: 172,
          height: 58,
          background: '#ffffff',
        }}
      />
      <div
        style={{
          position: 'absolute',
          left: 3374,
          top: 62,
          width: 172,
          height: 52,
          boxSizing: 'border-box',
          background: '#ffffff',
          border: '2px solid #f0f3fa',
          borderRadius: 12,
        }}
      />
      <Label x={3393} y={88} size={25}>USD</Label>

      <svg viewBox="0 4 36 18" width={38} height={19} style={{ position: 'absolute', left: 20, top: 1941 }}>
        <path d="M14 22H7V11H0V4h14v18zM28 22h-8l7.5-18h8L28 22z" fill="#131722" />
        <circle cx={20} cy={8} r={4} fill="#131722" />
      </svg>
      <Label x={67} y={1953} size={28}>TradingView</Label>
    </div>
  );
}
